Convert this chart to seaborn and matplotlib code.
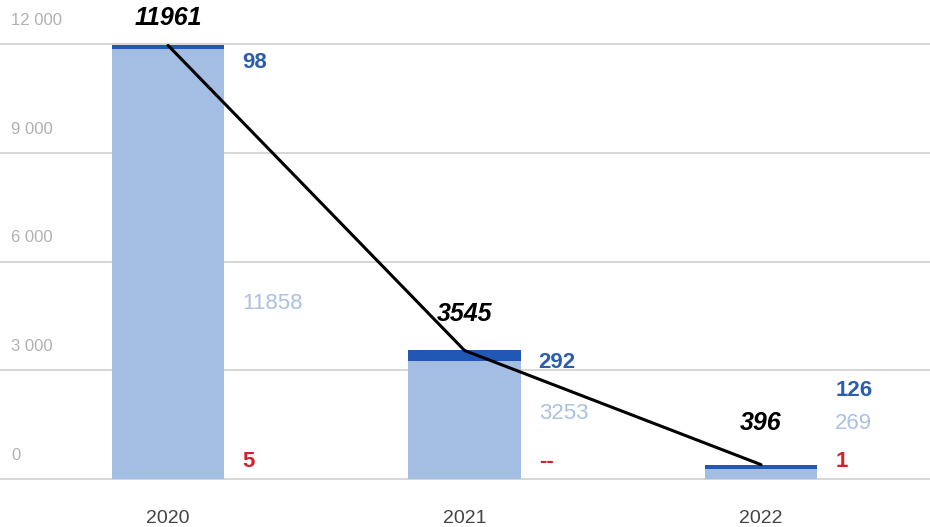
import numpy as np
import pandas as pd
import matplotlib.pyplot as plt
import matplotlib.transforms as mtransforms
import seaborn as sns

# Data
years = ['2020', '2021', '2022']
red_vals = [5, 0, 1]
light_vals = [11858, 3253, 269]
dark_vals = [98, 292, 126]
totals = [11961, 3545, 396]
red_labels = ['5', '--', '1']
y_ticks = [0, 3000, 6000, 9000, 12000]
y_tick_labels = ['0', '3 000', '6 000', '9 000', '12 000']

# Label placement (layout only)
dark_label_y = [11500, 3200, 2450]
light_label_y = [4830, 1820, 1520]
red_label_y = [470, 470, 470]
total_label_y = [12720, 4550, 1545]

sns.set_style('white')
plt.rcParams['font.family'] = ['Liberation Sans', 'DejaVu Sans']

c_light = '#a4bde3'
c_dark = '#2258b5'
c_dark_txt = '#2c5ea9'
c_light_txt = '#aac1e2'
c_red = '#d3202a'

df = pd.DataFrame({'year': years, 'red': red_vals, 'light': light_vals, 'dark': dark_vals})
df['top'] = df['red'] + df['light'] + df['dark']
df['mid'] = df['red'] + df['light']

fig = plt.figure(figsize=(9.3, 5.27), dpi=100)
ax = fig.add_axes([0, 48 / 527, 1, 435 / 527])

# gridlines
for t in y_ticks:
    ax.axhline(t, color='#d0d0d0', lw=1.2, zorder=0, clip_on=False)

bw = 0.38
for col, c, z in [('top', c_dark, 2), ('mid', c_light, 3), ('red', c_red, 4)]:
    sns.barplot(data=df, x='year', y=col, color=c, width=bw, saturation=1,
                linewidth=0, edgecolor='none', ax=ax, zorder=z)

pos = np.arange(len(years))
sns.lineplot(x=pos, y=totals, color='black', lw=2.2, ax=ax, zorder=5)

ax.set_xlim(-0.567, 2.57)
ax.set_ylim(0, 12000)
for s in ax.spines.values():
    s.set_visible(False)
ax.set_xlabel('')
ax.set_ylabel('')
ax.set_yticks([])
ax.set_xticks(pos)
ax.set_xticklabels(years, fontsize=14, color='#444444')
ax.tick_params(axis='x', length=0, pad=22)

# y tick labels sit above the gridlines
trans = mtransforms.blended_transform_factory(ax.transAxes, ax.transData)
for t, lab in zip(y_ticks, y_tick_labels):
    ax.annotate(lab, xy=(0.012, t), xycoords=trans, xytext=(0, 17),
                textcoords='offset points', va='center', ha='left',
                fontsize=12, color='#b0b0b0')

lx = bw / 2 + 0.06
for i in range(len(years)):
    ax.text(pos[i] + lx, dark_label_y[i], str(dark_vals[i]), color=c_dark_txt,
            fontsize=16, fontweight='bold', va='center', ha='left', zorder=6)
    ax.text(pos[i] + lx, light_label_y[i], str(light_vals[i]), color=c_light_txt,
            fontsize=16, va='center', ha='left', zorder=6)
    ax.text(pos[i] + lx, red_label_y[i], red_labels[i], color=c_red,
            fontsize=16, fontweight='bold', va='center', ha='left', zorder=6)
    ax.text(pos[i], total_label_y[i], str(totals[i]), color='black',
            fontsize=18, fontweight='bold', fontstyle='italic',
            va='center', ha='center', zorder=6)

fig.savefig('out.png', dpi=100, facecolor='white')
